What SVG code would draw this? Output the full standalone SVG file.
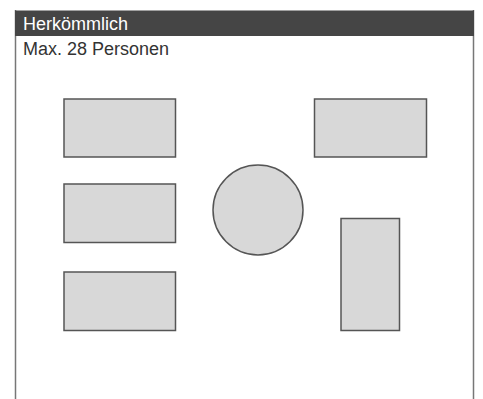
<svg xmlns="http://www.w3.org/2000/svg" width="483" height="399" viewBox="0 0 483 399">
<style>
.t{font-family:"Liberation Sans",Arial,sans-serif;font-size:18px}
.s{fill:#d8d8d8;stroke:#555;stroke-width:1.5}
</style>
<rect width="483" height="399" fill="#fff"/>
<g id="frame">
<line x1="15.5" y1="10" x2="15.5" y2="399" stroke="#777" stroke-width="1.5"/>
<line x1="473.5" y1="10" x2="473.5" y2="399" stroke="#777" stroke-width="1.5"/>
<rect x="15" y="10.5" width="459" height="25.5" fill="#454545"/>
<text class="t" x="23" y="30" fill="#fff">Herkömmlich</text>
<text class="t" x="23" y="54.5" fill="#333">Max. 28 Personen</text>
</g>
<g id="table1"><rect class="s" x="64" y="99" width="111.5" height="58"/></g>
<g id="table2"><rect class="s" x="64" y="184" width="111.5" height="58.5"/></g>
<g id="table3"><rect class="s" x="64" y="272" width="111.5" height="58.5"/></g>
<g id="table4"><rect class="s" x="314.5" y="99" width="112" height="58"/></g>
<g id="round"><circle class="s" cx="258" cy="210" r="45"/></g>
<g id="table5"><rect class="s" x="341" y="218.5" width="58.5" height="112"/></g>
<g id="connectors"/>
</svg>
